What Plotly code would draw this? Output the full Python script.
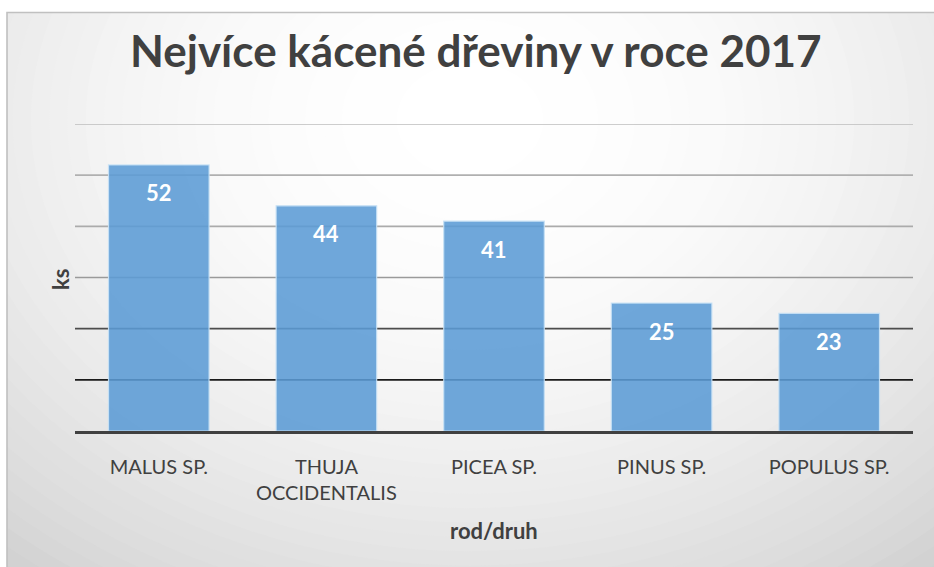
import plotly.graph_objects as go

# ---- data ----
categories = ["MALUS SP.", "THUJA OCCIDENTALIS", "PICEA SP.", "PINUS SP.", "POPULUS SP."]
tick_labels = ["MALUS SP.", "THUJA<br>OCCIDENTALIS", "PICEA SP.", "PINUS SP.", "POPULUS SP."]
values = [52, 44, 41, 25, 23]
grid_values = [10, 20, 30, 40, 50, 60]
grid_colors = ["#1a1a1a", "#4d4d4d", "#9a9a9a", "#ababab", "#b0b0b0", "#bdbdbd"]
title_text = "Nejvíce kácené dřeviny v roce 2017"
x_title = "rod/druh"
y_title = "ks"

# ---- layout geometry (pixels) ----
W, H = 934, 567
L, R, T, B = 75, 21, 124, 136
pw, ph = W - L - R, H - T - B


def px(x):
    return (x - L) / pw


def py(y):
    return (H - B - y) / ph


FONT = "Lato"
TXT = "#404040"

shapes = []
# radial gradient background via concentric ellipses
cx, cy, rx, ry = 470, 120, 700, 550
N = 44
rmax = 1.15
shapes.append(dict(type="rect", xref="paper", yref="paper",
                   x0=px(0), x1=px(W + 20), y0=py(H + 20), y1=py(-20),
                   fillcolor="rgb(%d,%d,%d)" % ((int(255 - 41 * rmax ** 2),) * 3),
                   line=dict(width=0), layer="below"))
for k in range(N, 0, -1):
    r = rmax * k / N
    c = int(round(255 - 41 * r ** 2))
    c = max(0, min(255, c))
    shapes.append(dict(type="circle", xref="paper", yref="paper",
                       x0=px(cx - r * rx), x1=px(cx + r * rx),
                       y0=py(cy + r * ry), y1=py(cy - r * ry),
                       fillcolor="rgb(%d,%d,%d)" % (c, c, c),
                       line=dict(width=0), layer="below"))
# white outside of chart frame
shapes.append(dict(type="rect", xref="paper", yref="paper",
                   x0=px(-20), x1=px(W + 20), y0=py(12), y1=py(-20),
                   fillcolor="white", line=dict(width=0), layer="below"))
shapes.append(dict(type="rect", xref="paper", yref="paper",
                   x0=px(-20), x1=px(7), y0=py(H + 20), y1=py(-20),
                   fillcolor="white", line=dict(width=0), layer="below"))
# frame border
shapes.append(dict(type="rect", xref="paper", yref="paper",
                   x0=px(7), x1=px(W + 10), y0=py(H + 10), y1=py(12.5),
                   fillcolor="rgba(0,0,0,0)", line=dict(width=1.6, color="#c0c0c0"),
                   layer="below"))
# gridlines
for gv, gc in zip(grid_values, grid_colors):
    shapes.append(dict(type="line", xref="paper", yref="y",
                       x0=0, x1=1, y0=gv, y1=gv,
                       line=dict(width=1.6, color=gc), layer="below"))

fig = go.Figure()
fig.add_trace(go.Bar(
    x=categories, y=values,
    marker=dict(color="rgba(91,155,213,0.88)",
                line=dict(color="rgba(200,225,245,0.9)", width=1.2)),
    width=0.6,
    hoverinfo="x+y",
))

annotations = []
for c, v in zip(categories, values):
    annotations.append(dict(x=c, y=v, xref="x", yref="y", text="<b>%d</b>" % v,
                            showarrow=False, yshift=-28, yanchor="middle",
                            font=dict(family=FONT, size=22, color="white")))
annotations.append(dict(x=px(476), y=py(50), xref="paper", yref="paper",
                        text="<b>%s</b>" % title_text, showarrow=False,
                        xanchor="center", yanchor="middle",
                        font=dict(family=FONT, size=44, color=TXT)))
annotations.append(dict(x=px(60), y=py(280), xref="paper", yref="paper",
                        text="<b>%s</b>" % y_title, showarrow=False, textangle=-90,
                        xanchor="center", yanchor="middle",
                        font=dict(family=FONT, size=22, color=TXT)))
annotations.append(dict(x=px(494), y=py(530), xref="paper", yref="paper",
                        text="<b>%s</b>" % x_title, showarrow=False,
                        xanchor="center", yanchor="middle",
                        font=dict(family=FONT, size=22, color=TXT)))

fig.update_layout(
    width=W, height=H,
    margin=dict(l=L, r=R, t=T, b=B, pad=0),
    paper_bgcolor="white",
    plot_bgcolor="rgba(0,0,0,0)",
    showlegend=False,
    shapes=shapes,
    annotations=annotations,
    xaxis=dict(tickmode="array", tickvals=categories, ticktext=tick_labels,
               showgrid=False, zeroline=False, ticks="",
               showline=True, linecolor="#404040", linewidth=3,
               tickfont=dict(family=FONT, size=20, color=TXT),
               ticklabelstandoff=16, fixedrange=True),
    yaxis=dict(range=[0, 60], showgrid=False, zeroline=False,
               showticklabels=False, ticks="", fixedrange=True),
)

fig.write_html("out.html",
               config={"displayModeBar": False},
               post_script="document.body.style.margin='0px';document.body.style.overflow='hidden';")
